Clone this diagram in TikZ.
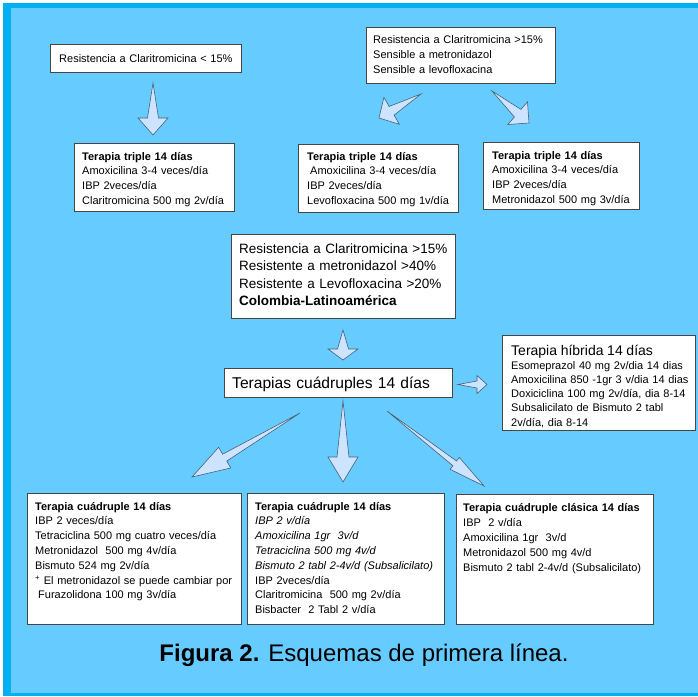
\documentclass[tikz,border=0pt]{standalone}
\usepackage{fontspec}
\setmainfont{Liberation Sans}
\usetikzlibrary{calc}
\definecolor{bgblue}{RGB}{102,204,255}
\definecolor{frameblue}{RGB}{0,176,240}
\definecolor{arrowfill}{RGB}{204,228,255}
\definecolor{boxline}{RGB}{70,70,70}
\definecolor{arrowline}{RGB}{75,95,115}
\newcommand{\wedgearrow}[5]{%
  \filldraw[blockarrow] (#1)
    -- ($(#2)!#3!(#1)!#5!90:(#1)$)
    -- ($(#2)!#3!(#1)!#4!90:(#1)$)
    -- (#2)
    -- ($(#2)!#3!(#1)!#4!-90:(#1)$)
    -- ($(#2)!#3!(#1)!#5!-90:(#1)$)
    -- cycle;}
\begin{document}
\begin{tikzpicture}[x=1pt,y=-1pt,
  box/.style={draw=boxline, line width=0.8pt, fill=white, anchor=north west, inner sep=0pt},
  txt/.style={anchor=base west, align=left, inner sep=0pt, font=\fontsize{11}{14.7}\selectfont},
  blockarrow/.style={fill=arrowfill, draw=arrowline, line width=0.6pt, line join=miter}]
\useasboundingbox (0,0) rectangle (698,696);
\fill[white] (0,0) rectangle (698,696);
\fill[frameblue] (3,3) rectangle (698,696);
\fill[bgblue] (11,8) rectangle (698,693);

% top row
\node[box, minimum width=191pt, minimum height=28pt] (A) at (50,44) {};
\node[txt, text width=185pt] (At) at (59,62) {Resistencia a Claritromicina < 15\%};

\node[box, minimum width=189pt, minimum height=56pt] (B) at (366,27) {};
\node[txt, text width=185pt, font=\fontsize{11}{15}\selectfont] (Bt) at (373,43)
  {Resistencia a Claritromicina >15\%\\Sensible a metronidazol\\Sensible a levofloxacina};

\node[box, minimum width=160pt, minimum height=68pt] (C) at (74,143) {};
\node[txt, text width=160pt] (Ct) at (82,160)
  {\textbf{Terapia triple 14 días}\\Amoxicilina 3-4 veces/día\\IBP 2veces/día\\Claritromicina 500 mg 2v/día};

\node[box, minimum width=160pt, minimum height=68pt] (D) at (298,144) {};
\node[txt, text width=160pt] (Dt) at (307,160)
  {\textbf{Terapia triple 14 días}\\\hspace*{3pt}Amoxicilina 3-4 veces/día\\IBP 2veces/día\\Levofloxacina 500 mg 1v/día};

\node[box, minimum width=156pt, minimum height=67pt] (E) at (483,142) {};
\node[txt, text width=160pt] (Et) at (492,159)
  {\textbf{Terapia triple 14 días}\\Amoxicilina 3-4 veces/día\\IBP 2veces/día\\Metronidazol 500 mg 3v/día};

% middle
\node[box, minimum width=224pt, minimum height=84pt] (F) at (231,234) {};
\node[txt, text width=225pt, font=\fontsize{13.5}{17.6}\selectfont] (Ft) at (239,253)
  {Resistencia a Claritromicina >15\%\\Resistente a metronidazol >40\%\\Resistente a Levofloxacina >20\%\\\textbf{Colombia-Latinoamérica}};

\node[box, minimum width=228pt, minimum height=29pt] (G) at (224,368) {};
\node[txt, text width=225pt, font=\fontsize{15.6}{18}\selectfont] (Gt) at (232,388.5)
  {Terapias cuádruples 14 días};

\node[box, minimum width=193pt, minimum height=95pt] (H) at (502,335) {};
\node[txt, text width=190pt, font=\fontsize{11}{14.2}\selectfont] (Ht) at (511,355)
  {{\fontsize{14}{14.2}\selectfont Terapia híbrida 14 días}\\Esomeprazol 40 mg 2v/dia 14 dias\\Amoxicilina 850 -1gr 3 v/dia 14 dias\\Doxiciclina 100 mg 2v/día, dia 8-14\\Subsalicilato de Bismuto 2 tabl\\2v/día, dia 8-14};

% bottom row
\node[box, minimum width=214pt, minimum height=131pt] (I) at (27,493) {};
\node[txt, text width=215pt, font=\fontsize{11}{14.8}\selectfont] (It) at (35,510)
  {\textbf{Terapia cuádruple 14 días}\\IBP 2 veces/día\\Tetraciclina 500 mg cuatro veces/día\\Metronidazol\ \ 500 mg 4v/día\\Bismuto 524 mg 2v/día\\\textsuperscript{+} El metronidazol se puede cambiar por\\\hspace*{3pt}Furazolidona 100 mg 3v/día};

\node[box, minimum width=197pt, minimum height=131pt] (J) at (247,493) {};
\node[txt, text width=200pt, font=\fontsize{11}{14.8}\selectfont] (Jt) at (255,510)
  {\textbf{Terapia cuádruple 14 días}\\\textit{IBP 2 v/día}\\\textit{Amoxicilina 1gr\ \ 3v/d}\\\textit{Tetraciclina 500 mg 4v/d}\\\textit{Bismuto 2 tabl 2-4v/d (Subsalicilato)}\\IBP 2veces/día\\Claritromicina\ \ 500 mg 2v/día\\Bisbacter\ \ 2 Tabl 2 v/día};

\node[box, minimum width=197pt, minimum height=130pt] (K) at (456,494) {};
\node[txt, text width=200pt, font=\fontsize{11}{15}\selectfont] (Kt) at (463,511)
  {\textbf{Terapia cuádruple clásica 14 días}\\IBP\ \ 2 v/día\\Amoxicilina 1gr\ \ 3v/d\\Metronidazol 500 mg 4v/d\\Bismuto 2 tabl 2-4v/d (Subsalicilato)};

% caption
\node[anchor=base, inner sep=0pt, font=\fontsize{24}{28}\selectfont] (cap) at (364,661)
  {\textbf{Figura 2.} Esquemas de primera línea.};

% block arrows
\coordinate (a1t) at (153,83);  \coordinate (a1h) at (153,135);
\coordinate (a2t) at (421,94);  \coordinate (a2h) at (379,118);
\coordinate (a3t) at (492,91);  \coordinate (a3h) at (529,123);
\coordinate (a4t) at (343,330); \coordinate (a4h) at (343,360);
\coordinate (a5t) at (458,384.5); \coordinate (a5h) at (487,384.5);
\coordinate (a6t) at (300,413); \coordinate (a6h) at (192,477);
\coordinate (a7t) at (343,401); \coordinate (a7h) at (343,482);
\coordinate (a8t) at (387,411); \coordinate (a8h) at (484,486);
\wedgearrow{a1t}{a1h}{17pt}{15pt}{5.5pt}
\wedgearrow{a2t}{a2h}{14.5pt}{15.5pt}{5pt}
\wedgearrow{a3t}{a3h}{15pt}{15pt}{5pt}
\wedgearrow{a4t}{a4h}{11pt}{15pt}{5.5pt}
\wedgearrow{a5t}{a5h}{10pt}{9pt}{3.5pt}
\wedgearrow{a6t}{a6h}{38pt}{12pt}{4pt}
\wedgearrow{a7t}{a7h}{25pt}{15pt}{6pt}
\wedgearrow{a8t}{a8h}{37pt}{7.5pt}{3pt}
\end{tikzpicture}
\end{document}
